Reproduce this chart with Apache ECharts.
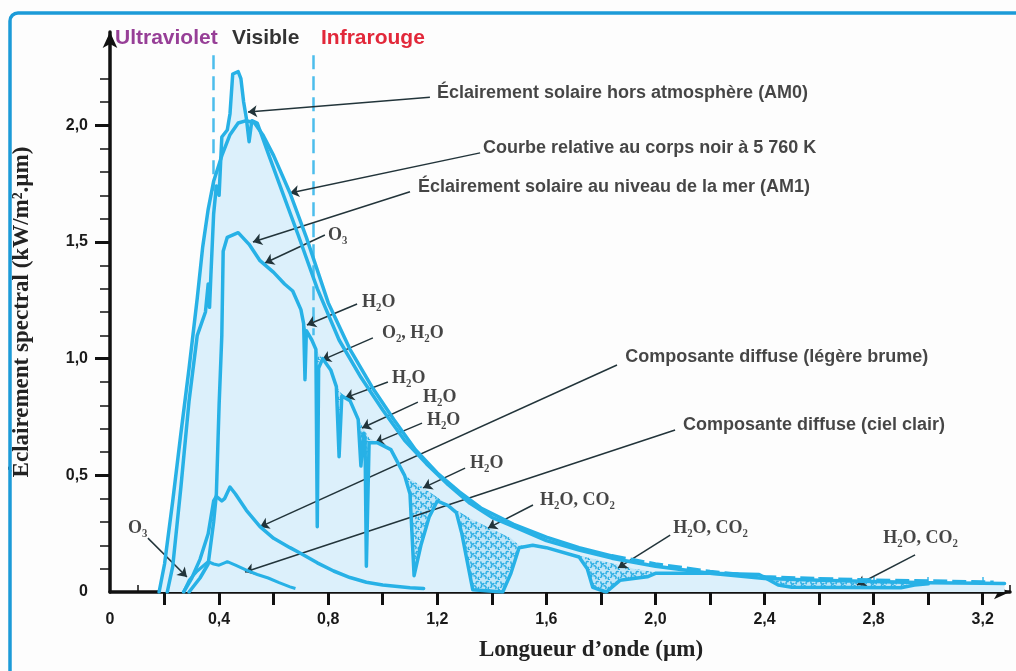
<!DOCTYPE html>
<html lang="fr">
<head>
<meta charset="utf-8">
<title>Spectre solaire</title>
<script src="https://cdn.jsdelivr.net/npm/echarts@6/dist/echarts.min.js"></script>
<style>
  html, body { margin: 0; padding: 0; background: #fdfdfd; }
  #chart { width: 1016px; height: 671px; }
</style>
</head>
<body>
<div id="chart"></div>
<script>
// Longueur d'onde (µm) / éclairement spectral (kW/m².µm)

// Corps noir à 5 760 K
const corpsNoir = [
  [0.18, 0.00], [0.20, 0.12], [0.23, 0.39], [0.26, 0.68], [0.29, 0.96], [0.32, 1.26],
  [0.34, 1.48], [0.36, 1.64], [0.38, 1.76], [0.41, 1.87], [0.44, 1.96], [0.47, 2.01],
  [0.50, 2.02], [0.53, 2.01], [0.56, 1.96], [0.60, 1.87], [0.66, 1.71], [0.72, 1.52],
  [0.80, 1.24], [0.88, 1.04], [0.96, 0.88], [1.04, 0.74], [1.12, 0.61], [1.20, 0.51],
  [1.28, 0.43], [1.36, 0.36], [1.48, 0.29], [1.60, 0.235], [1.72, 0.19], [1.84, 0.155],
  [2.00, 0.12], [2.20, 0.088], [2.40, 0.065], [2.60, 0.057], [2.80, 0.051], [3.00, 0.047],
  [3.20, 0.043], [3.24, 0.042]
];

// Éclairement solaire hors atmosphère (AM0)
const horsAtmosphere = [
  [0.21, 0.00], [0.23, 0.11], [0.26, 0.45], [0.29, 0.82], [0.32, 1.10], [0.35, 1.20],
  [0.36, 1.32], [0.365, 1.22], [0.37, 1.36], [0.38, 1.62], [0.39, 1.74], [0.40, 1.70],
  [0.41, 1.95], [0.43, 1.98], [0.44, 2.05], [0.45, 2.22], [0.47, 2.23], [0.48, 2.20],
  [0.49, 2.10], [0.50, 2.03], [0.51, 1.93], [0.52, 2.02], [0.54, 2.01], [0.58, 1.88],
  [0.63, 1.72], [0.69, 1.53], [0.76, 1.30], [0.84, 1.08], [0.92, 0.92], [1.00, 0.78],
  [1.08, 0.65], [1.16, 0.55], [1.24, 0.46], [1.32, 0.38], [1.40, 0.32], [1.50, 0.27],
  [1.60, 0.22], [1.72, 0.18], [1.84, 0.145], [2.00, 0.11], [2.20, 0.08], [2.40, 0.058],
  [2.60, 0.05], [2.80, 0.045], [3.00, 0.04], [3.20, 0.037], [3.28, 0.036]
];

// Éclairement solaire au niveau de la mer (AM1)
const niveauMer = [
  [0.29, 0.00], [0.33, 0.06], [0.36, 0.12], [0.38, 0.30], [0.39, 0.42], [0.40, 0.80],
  [0.41, 1.10], [0.415, 1.46], [0.43, 1.52], [0.47, 1.54], [0.51, 1.49], [0.55, 1.42],
  [0.60, 1.37], [0.64, 1.32], [0.67, 1.29], [0.70, 1.21], [0.71, 1.15], [0.715, 0.91],
  [0.72, 1.12], [0.74, 1.08], [0.755, 1.04], [0.76, 0.28], [0.765, 0.96], [0.78, 1.00],
  [0.81, 0.95], [0.83, 0.88], [0.84, 0.58], [0.85, 0.84], [0.88, 0.82], [0.91, 0.74],
  [0.92, 0.54], [0.93, 0.68], [0.935, 0.66], [0.94, 0.11], [0.95, 0.64], [0.98, 0.64],
  [1.03, 0.61], [1.08, 0.50], [1.10, 0.42], [1.115, 0.07], [1.14, 0.20], [1.17, 0.32],
  [1.20, 0.39], [1.24, 0.37], [1.27, 0.34], [1.29, 0.25], [1.33, 0.01], [1.44, 0.00],
  [1.47, 0.08], [1.50, 0.19], [1.55, 0.20], [1.60, 0.19], [1.72, 0.15], [1.75, 0.10],
  [1.77, 0.02], [1.82, 0.00], [1.87, 0.05], [1.97, 0.065], [2.00, 0.08], [2.20, 0.08],
  [2.38, 0.075], [2.45, 0.03], [2.50, 0.02], [2.90, 0.018], [2.95, 0.03], [3.00, 0.035]
];

// Niveau AM1 sans bandes d'absorption (bornes des zones pointillées)
const continuumMer = [
  [0.70, 1.21], [0.72, 1.12], [0.74, 1.08], [0.76, 1.03], [0.78, 1.00], [0.81, 0.95],
  [0.84, 0.86], [0.88, 0.82], [0.92, 0.72], [0.95, 0.66], [0.98, 0.64], [1.03, 0.60],
  [1.08, 0.50], [1.12, 0.47], [1.17, 0.43], [1.22, 0.39], [1.27, 0.35], [1.33, 0.31],
  [1.40, 0.27], [1.47, 0.23], [1.50, 0.20], [1.60, 0.19], [1.72, 0.155], [1.78, 0.14],
  [1.85, 0.12], [1.92, 0.10], [2.00, 0.085], [2.20, 0.08], [2.38, 0.075], [2.50, 0.055],
  [2.70, 0.05], [2.90, 0.045], [2.95, 0.04]
];

// Composante diffuse (légère brume)
const diffuseBrume = [
  [0.27, 0.00], [0.30, 0.06], [0.33, 0.14], [0.36, 0.25], [0.38, 0.39], [0.39, 0.41],
  [0.41, 0.39], [0.42, 0.40], [0.44, 0.45], [0.46, 0.42], [0.50, 0.35], [0.55, 0.28],
  [0.60, 0.23], [0.66, 0.19], [0.70, 0.165], [0.76, 0.125], [0.82, 0.09], [0.88, 0.062],
  [0.94, 0.042], [1.00, 0.03], [1.10, 0.018], [1.15, 0.015]
];

// Composante diffuse (ciel clair)
const diffuseCielClair = [
  [0.27, 0.00], [0.29, 0.05], [0.32, 0.09], [0.35, 0.12], [0.36, 0.13], [0.38, 0.12],
  [0.40, 0.115], [0.42, 0.125], [0.43, 0.13], [0.46, 0.115], [0.50, 0.094], [0.54, 0.075],
  [0.58, 0.06], [0.62, 0.04], [0.66, 0.022], [0.68, 0.015]
];

// Graduations
const xLabels = [0, 0.4, 0.8, 1.2, 1.6, 2.0, 2.4, 2.8, 3.2];
const xMajorTicks = [0.2, 0.4, 0.6, 0.8, 1.0, 1.2, 1.4, 1.6, 1.8, 2.0, 2.2, 2.4, 2.6, 2.8, 3.0, 3.2];
const xMinorTicks = [0.1, 0.3, 0.5, 0.7, 0.9, 1.1, 1.3, 1.5, 1.7, 1.9, 2.1, 2.3, 2.5, 2.7, 2.9, 3.1, 3.3];
const yLabels = [0, 0.5, 1.0, 1.5, 2.0];
const yMajorTicks = [0.5, 1.0, 1.5, 2.0];
const yMinorTicks = [0.1, 0.2, 0.3, 0.4, 0.6, 0.7, 0.8, 0.9, 1.1, 1.2, 1.3, 1.4, 1.6, 1.7, 1.8, 1.9, 2.1, 2.2];

// Limites des domaines UV / visible / IR (µm)
const limitesDomaines = [0.38, 0.745];

// Légendes et flèches (coordonnées dans le repère du graphique)
const legendes = [
  { texte: 'Éclairement solaire hors atmosphère (AM0)', chimie: false, at: [1.199, 2.139], from: [1.173, 2.120], to: [0.506, 2.057] },
  { texte: 'Courbe relative au corps noir à 5 760 K', chimie: false, at: [1.368, 1.903], from: [1.357, 1.882], to: [0.660, 1.710] },
  { texte: 'Éclairement solaire au niveau de la mer (AM1)', chimie: false, at: [1.129, 1.736], from: [1.100, 1.715], to: [0.524, 1.500] },
  { texte: 'O₃', chimie: true, at: [0.799, 1.530], from: [0.788, 1.530], to: [0.568, 1.410] },
  { texte: 'H₂O', chimie: true, at: [0.924, 1.243], from: [0.906, 1.234], to: [0.722, 1.144] },
  { texte: 'O₂, H₂O', chimie: true, at: [0.997, 1.110], from: [0.964, 1.089], to: [0.777, 0.994] },
  { texte: 'H₂O', chimie: true, at: [1.034, 0.917], from: [1.019, 0.900], to: [0.862, 0.832] },
  { texte: 'H₂O', chimie: true, at: [1.148, 0.836], from: [1.129, 0.814], to: [0.924, 0.703] },
  { texte: 'H₂O', chimie: true, at: [1.162, 0.737], from: [1.144, 0.724], to: [0.972, 0.639] },
  { texte: 'Composante diffuse (légère brume)', chimie: false, at: [1.889, 1.007], from: [1.859, 0.973], to: [0.550, 0.279] },
  { texte: 'Composante diffuse (ciel clair)', chimie: false, at: [2.101, 0.716], from: [2.072, 0.694], to: [0.495, 0.086] },
  { texte: 'H₂O', chimie: true, at: [1.320, 0.553], from: [1.302, 0.531], to: [1.148, 0.446] },
  { texte: 'H₂O, CO₂', chimie: true, at: [1.577, 0.394], from: [1.551, 0.373], to: [1.386, 0.274] },
  { texte: 'H₂O, CO₂', chimie: true, at: [2.065, 0.274], from: [2.054, 0.244], to: [1.863, 0.103] },
  { texte: 'H₂O, CO₂', chimie: true, at: [2.835, 0.231], from: [2.952, 0.159], to: [2.739, 0.030] },
  { texte: 'O₃', chimie: true, at: [0.066, 0.274], from: [0.139, 0.231], to: [0.282, 0.064] }
];

const BLEU = '#27b1e6';
const FOND = '#dcf0fb';
const SANS = '"Liberation Sans", Arial, sans-serif';
const SERIF = '"Liberation Serif", "Times New Roman", "DejaVu Serif", serif';

// Motif pointillé des bandes d'absorption
function motifAbsorption() {
  const c = document.createElement('canvas');
  c.width = 10; c.height = 10;
  const g = c.getContext('2d');
  g.fillStyle = '#bfe5f7';
  g.fillRect(0, 0, 10, 10);
  g.strokeStyle = '#2aaee4';
  g.lineWidth = 1.5;
  const arcs = [[2.5, 2.5, 1.6, 0.3, 3.9], [7.5, 3, 1.5, 2.2, 5.6], [4.5, 7.5, 1.6, 4.0, 7.3], [9.5, 8.5, 1.3, 1.0, 4.5], [0.5, 6, 1.2, 5.0, 8.2]];
  arcs.forEach(([x, y, r, a0, a1]) => { g.beginPath(); g.arc(x, y, r, a0, a1); g.stroke(); });
  return c;
}

const fmt = v => (v === 0 ? '0' : v.toFixed(1).replace('.', ','));

function remplissage(donnees, couleur, z) {
  return {
    type: 'line', data: donnees, z, silent: true, symbol: 'none',
    lineStyle: { width: 0 }, areaStyle: { color: couleur, opacity: 1 }
  };
}
function trace(donnees, z, extra) {
  return Object.assign({
    type: 'line', data: donnees, z, silent: true, symbol: 'none',
    lineStyle: { color: BLEU, width: 3.5, join: 'round', cap: 'round' }
  }, extra || {});
}

const chart = echarts.init(document.getElementById('chart'), null, { renderer: 'canvas' });

const axeXCommun = { type: 'value', min: 0, max: 3.3, position: 'bottom', gridIndex: 0 };
const axeYCommun = { type: 'value', min: 0, max: 2.4, position: 'left', gridIndex: 0 };

chart.setOption({
  animation: false,
  backgroundColor: '#fdfdfd',
  grid: { left: 110, right: 6, top: 32, bottom: 79, containLabel: false },
  xAxis: [
    Object.assign({}, axeXCommun, {
      name: 'Longueur d’onde (µm)', nameLocation: 'middle', nameGap: 47,
      nameTextStyle: { fontFamily: SERIF, fontWeight: 'bold', fontSize: 23, color: '#222', padding: [0, 0, 0, 62] },
      splitLine: { show: false },
      axisLine: { show: true, symbol: ['none', 'arrow'], symbolSize: [11, 16], lineStyle: { color: '#111', width: 3.5 } },
      axisTick: { show: true, inside: false, length: 13, customValues: xMajorTicks, lineStyle: { color: '#111', width: 3 } },
      axisLabel: { show: true, customValues: xLabels, margin: 20, formatter: fmt,
        fontFamily: SANS, fontWeight: 'bold', fontSize: 16, color: '#1a1a1a' }
    }),
    Object.assign({}, axeXCommun, {
      axisLine: { show: false }, splitLine: { show: false }, axisLabel: { show: false },
      axisTick: { show: true, inside: true, length: 7, customValues: xMinorTicks, lineStyle: { color: '#111', width: 1.5 } }
    }),
    Object.assign({}, axeXCommun, {
      axisLine: { show: false }, splitLine: { show: false }, axisLabel: { show: false },
      axisTick: { show: true, inside: true, length: 15, customValues: xMajorTicks, lineStyle: { color: '#6ccaf0', width: 2 } }
    })
  ],
  yAxis: [
    Object.assign({}, axeYCommun, {
      name: 'Éclairement spectral (kW/m².µm)', nameLocation: 'middle', nameGap: 76, nameRotate: 90,
      nameTextStyle: { fontFamily: SERIF, fontWeight: 'bold', fontSize: 23, color: '#222' },
      splitLine: { show: false },
      axisLine: { show: true, symbol: ['none', 'arrow'], symbolSize: [11, 16], lineStyle: { color: '#111', width: 3.5 } },
      axisTick: { show: true, inside: false, length: 15, customValues: yMajorTicks, lineStyle: { color: '#111', width: 3 } },
      axisLabel: { show: true, customValues: yLabels, margin: 22, formatter: fmt,
        fontFamily: SANS, fontWeight: 'bold', fontSize: 16, color: '#1a1a1a' }
    }),
    Object.assign({}, axeYCommun, {
      axisLine: { show: false }, splitLine: { show: false }, axisLabel: { show: false },
      axisTick: { show: true, inside: false, length: 10, customValues: yMinorTicks, lineStyle: { color: '#111', width: 1.5 } }
    })
  ],
  graphic: [
    { type: 'rect', silent: true, z: 100,
      shape: { x: 10, y: 13, width: 1040, height: 700, r: 8 },
      style: { fill: 'none', stroke: '#1c9bd8', lineWidth: 3.5 } },
    { type: 'text', left: 115, top: 28, silent: true,
      style: { text: 'Ultraviolet', fill: '#973f97', font: 'bold 21px ' + SANS } },
    { type: 'text', left: 232, top: 28, silent: true,
      style: { text: 'Visible', fill: '#333333', font: 'bold 21px ' + SANS } },
    { type: 'text', left: 321, top: 28, silent: true,
      style: { text: 'Infrarouge', fill: '#e2283a', font: 'bold 21px ' + SANS } }
  ],
  series: [
    remplissage(corpsNoir, FOND, 1),
    remplissage(horsAtmosphere, FOND, 1),
    remplissage(continuumMer, { image: motifAbsorption(), repeat: 'repeat' }, 2),
    remplissage(niveauMer, FOND, 3),
    trace(corpsNoir.filter(p => p[0] <= 1.84), 5),
    trace(corpsNoir.filter(p => p[0] >= 1.84), 5, {
      lineStyle: { color: BLEU, width: 3.5, type: [14, 5] }
    }),
    trace(horsAtmosphere, 5),
    trace(niveauMer, 5),
    trace(diffuseBrume, 5),
    trace(diffuseCielClair, 5, { lineStyle: { color: BLEU, width: 3 } }),
    {
      // limites des domaines spectraux
      type: 'line', data: [], z: 4, silent: true,
      markLine: {
        silent: true, symbol: ['none', 'none'], animation: false,
        label: { show: false },
        lineStyle: { color: '#4cbdec', width: 2.5, type: [14, 7] },
        data: [
          [{ coord: [limitesDomaines[0], 2.30] }, { coord: [limitesDomaines[0], 1.72] }],
          [{ coord: [limitesDomaines[1], 2.30] }, { coord: [limitesDomaines[1], 1.10] }]
        ]
      }
    },
    {
      // textes des légendes et flèches de rappel
      type: 'scatter', z: 10, silent: true, symbolSize: 0,
      data: legendes.map(l => ({
        value: l.at,
        label: {
          show: true, position: 'right', distance: 0, formatter: l.texte,
          fontFamily: l.chimie ? SERIF : SANS, fontWeight: 'bold',
          fontSize: 18, color: '#161616'
        }
      })),
      markLine: {
        silent: true, animation: false, symbol: ['none', 'arrow'], symbolSize: 9,
        label: { show: false },
        lineStyle: { color: '#22343a', width: 1.5, type: 'solid' },
        data: legendes.map(l => [{ coord: l.from }, { coord: l.to }])
      }
    }
  ]
});
</script>
</body>
</html>
